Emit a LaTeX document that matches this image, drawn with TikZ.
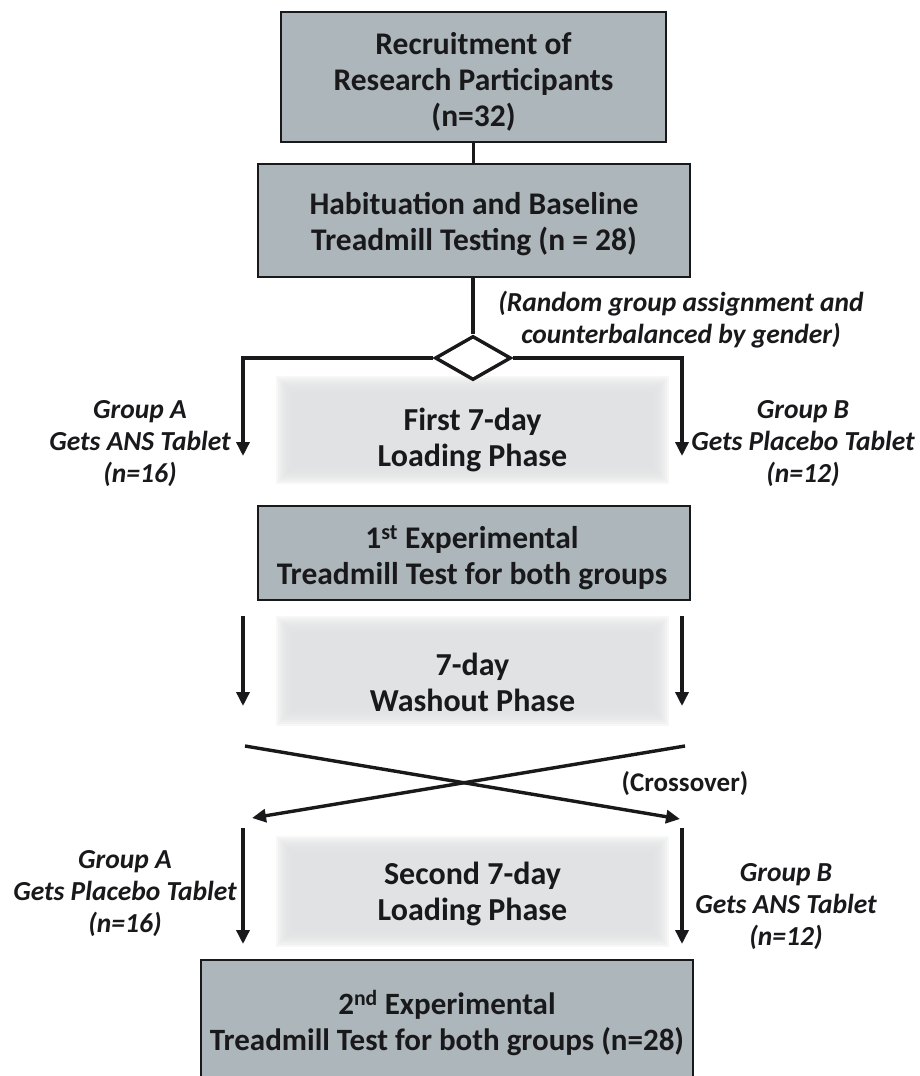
\documentclass[tikz,border=0pt]{standalone}
\usepackage{fontspec}
\setmainfont{Carlito}
\usetikzlibrary{arrows.meta,shapes.geometric}
\definecolor{boxfill}{RGB}{173,182,186}
\definecolor{phasefill}{RGB}{224,226,227}
\definecolor{ink}{RGB}{25,25,28}
\begin{document}
\begin{tikzpicture}[x=1pt,y=-1pt,
  mainbox/.style={draw=ink, line width=2pt, fill=boxfill, inner sep=0pt},
  maintext/.style={align=center, inner sep=0pt, font=\bfseries\fontsize{31.5}{36}\selectfont, text=ink},
  phasetext/.style={maintext, font=\bfseries\fontsize{32}{36}\selectfont},
  lbl/.style={align=center, font=\bfseries\itshape\fontsize{27.5}{32}\selectfont, text=ink},
  conn/.style={draw=ink, line width=3.4pt},
  arr/.style={conn, -{Triangle[width=13pt,length=14pt]}}
]
\useasboundingbox (0,0) rectangle (920,1076);
\fill[white] (0,0) rectangle (920,1076);
\clip (0,0) rectangle (920,1076);

% main boxes
\node[mainbox, minimum width=385pt, minimum height=130pt] (b1) at (473.5,77) {};
\node[mainbox, minimum width=432pt, minimum height=113pt] (b2) at (474,220.5) {};
\node[mainbox, minimum width=432pt, minimum height=94pt] (b3) at (474,553) {};
\node[mainbox, minimum width=492pt, minimum height=124pt] (b4) at (447,1022) {};
\node[maintext] (t1) at (473.5,82) {Recruitment of\\Research Participants\\(n=32)};
\node[maintext] (t2) at (474,224.5) {Habituation and Baseline\\Treadmill Testing (n = 28)};
\node[maintext] (t3) at (472,558) {1\textsuperscript{st} Experimental\\Treadmill Test for both groups};
\node[maintext, font=\bfseries\fontsize{31}{36}\selectfont] (t4) at (447,1023)
  {2\textsuperscript{nd} Experimental\\Treadmill Test for both groups (n=28)};

% soft phase boxes
\foreach \d in {12,10,...,-4}{
  \fill[phasefill, opacity=0.25] (288-\d,388-\d) rectangle (657+\d,472+\d);
  \fill[phasefill, opacity=0.25] (288-\d,628-\d) rectangle (657+\d,714+\d);
  \fill[phasefill, opacity=0.25] (288-\d,848-\d) rectangle (657+\d,935+\d);
}
\node[inner sep=0pt, minimum width=369pt, minimum height=84pt] (p1) at (472.5,430) {};
\node[inner sep=0pt, minimum width=369pt, minimum height=86pt] (p2) at (472.5,671) {};
\node[inner sep=0pt, minimum width=369pt, minimum height=87pt] (p3) at (472.5,891.5) {};
\node[phasetext] (pt1) at (472.5,440) {First 7-day\\Loading Phase};
\node[phasetext] (pt2) at (472.5,682) {7-day\\Washout Phase};
\node[phasetext] (pt3) at (472.5,893.5) {Second 7-day\\Loading Phase};

% diamond
\node[draw=ink, line width=3.4pt, shape=diamond, minimum width=76pt, minimum height=44pt,
  inner sep=0pt, fill=white] (dia) at (473,358) {};

% labels
\node[lbl] (rand) at (681,320) {(Random group assignment and\\counterbalanced by gender)};
\node[lbl] (ga1) at (140,444) {Group A\\Gets ANS Tablet\\(n=16)};
\node[lbl] (gb1) at (803,444) {Group B\\Gets Placebo Tablet\\(n=12)};
\node[font=\bfseries\fontsize{27}{30}\selectfont, text=ink] (cross) at (685,784) {(Crossover)};
\node[lbl] (ga2) at (125,894) {Group A\\Gets Placebo Tablet\\(n=16)};
\node[lbl] (gb2) at (786,907) {Group B\\Gets ANS Tablet\\(n=12)};

% coordinates
\coordinate (aL1) at (243,456);
\coordinate (aR1) at (682,456);
\coordinate (sL2) at (243,616);
\coordinate (eL2) at (243,706);
\coordinate (sR2) at (682,616);
\coordinate (eR2) at (682,706);
\coordinate (xL) at (245,746);
\coordinate (xR) at (685,746);
\coordinate (xLe) at (252,818);
\coordinate (xRe) at (680,819);
\coordinate (sL3) at (243,828);
\coordinate (eL3) at (243,944);
\coordinate (sR3) at (682,828);
\coordinate (eR3) at (682,944);

% connectors
\draw[conn] (b1.south) -- (b1.south |- b2.north);
\draw[conn] (b2.south -| dia.north) -- (dia.north);
\draw[arr] (dia.west) -| (aL1);
\draw[arr] (dia.east) -| (aR1);
\draw[arr] (sL2) -- (eL2);
\draw[arr] (sR2) -- (eR2);
\draw[arr] (xL) -- (xRe);
\draw[arr] (xR) -- (xLe);
\draw[arr] (sL3) -- (eL3);
\draw[arr] (sR3) -- (eR3);
\end{tikzpicture}
\end{document}
